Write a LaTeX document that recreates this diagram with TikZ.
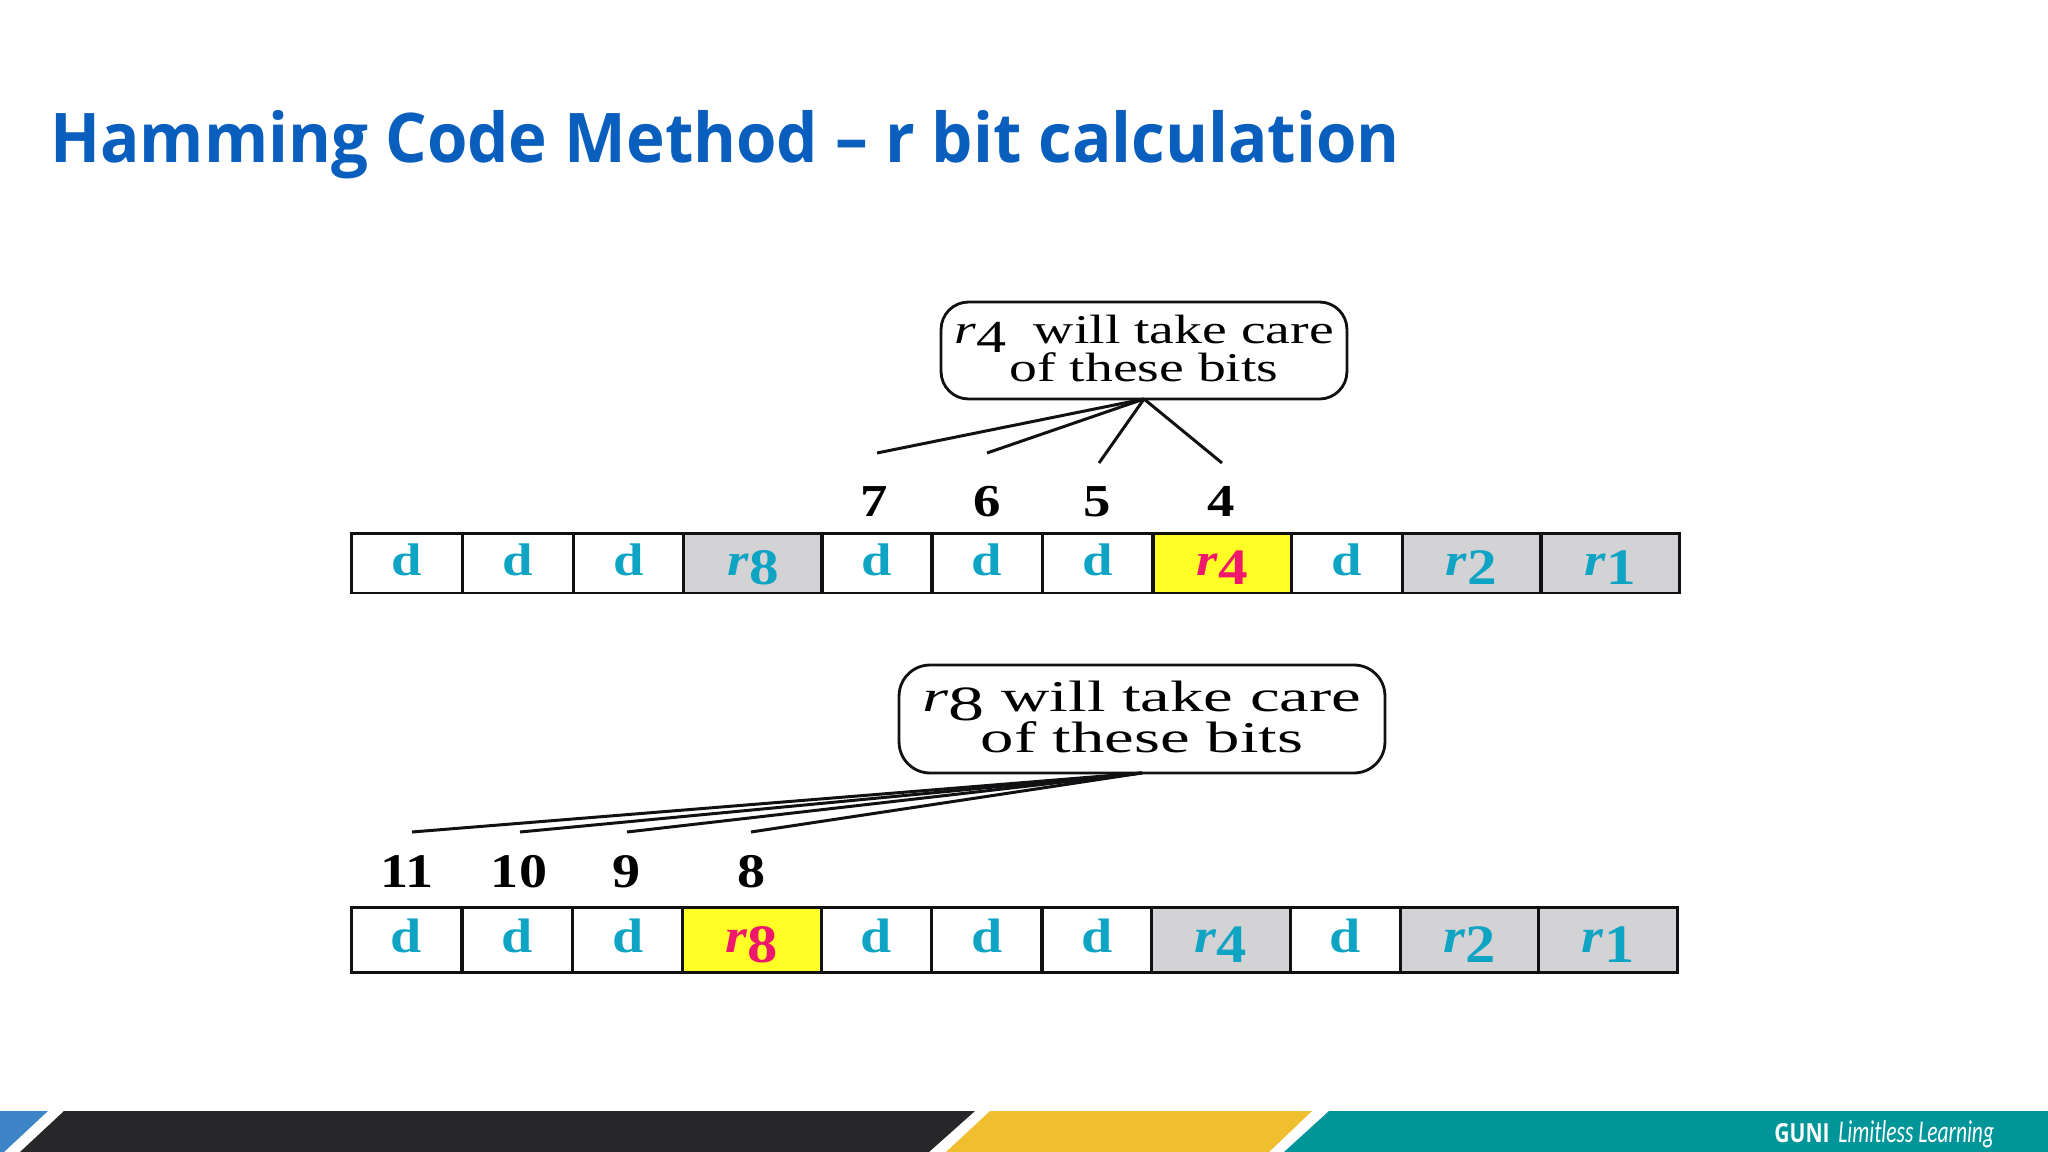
\documentclass[tikz,border=0pt]{standalone}
\usepackage{fontspec}
\usepackage{xcolor}
\setmainfont{Liberation Serif}
\newfontfamily\titlefont[FakeStretch=0.955]{Open Sans}
\newfontfamily\gunifont[FakeStretch=0.8]{Open Sans}
\newfontfamily\mottofont[FakeStretch=0.68]{Carlito}
\newfontfamily\bitfonta[FakeStretch=1.2]{Liberation Serif}
\newfontfamily\bitfontb[FakeStretch=1.16]{Liberation Serif}
\newfontfamily\notefonta[FakeStretch=1.36]{Liberation Serif}
\newfontfamily\notefontb[FakeStretch=1.52]{Liberation Serif}
\definecolor{titleblue}{HTML}{0A5FBE}
\definecolor{bitblue}{HTML}{0FA3C4}
\definecolor{bitpink}{HTML}{F0186C}
\definecolor{bityellow}{HTML}{FFFF26}
\definecolor{bitgray}{HTML}{D3D3D5}
\definecolor{inkdark}{HTML}{111113}
\definecolor{barblue}{HTML}{3D85C6}
\definecolor{bardark}{HTML}{272729}
\definecolor{baryellow}{HTML}{F0BF2F}
\definecolor{barteal}{HTML}{009599}
\newcommand{\rlab}[1]{\textit{r}\raisebox{-0.21em}{\scalebox{1.08}[1.12]{#1}}}
\tikzset{
  cell/.style={draw=inkdark, line width=1.7pt, inner sep=0pt, outer sep=0pt, text=bitblue, text height=0.6cm, text depth=0.12cm},
  rowa/.style={cell, minimum height=1.2cm, font=\bitfonta\bfseries\fontsize{26}{26}\selectfont},
  rowb/.style={cell, minimum height=1.3cm, font=\bitfontb\bfseries\fontsize{27.5}{27.5}\selectfont},
  dbit/.style={minimum width=2.21cm},
  rbit/.style={minimum width=2.77cm, fill=bitgray},
  hit/.style={minimum width=2.77cm, fill=bityellow, text=bitpink},
  numa/.style={anchor=base, inner sep=0pt, text=black, font=\bitfonta\bfseries\fontsize{26}{26}\selectfont},
  numb/.style={anchor=base, inner sep=0pt, text=black, font=\bitfontb\bfseries\fontsize{27.5}{27.5}\selectfont},
  note/.style={draw=inkdark, line width=1.6pt, inner sep=0pt, outer sep=0pt, align=center, fill=white},
  lead/.style={draw=inkdark, line width=1.7pt},
}
\begin{document}
\begin{tikzpicture}[x=0.02cm, y=-0.02cm]
  \useasboundingbox (0,0) rectangle (2048,1152);

  % title
  \node[anchor=base west, inner sep=0pt, text=titleblue, font=\titlefont\bfseries\fontsize{39}{39}\selectfont] (title) at (50,163) {Hamming Code Method – r bit calculation};

  % upper row
  \node[rowa,dbit] (a11) at (407,563) {d};
  \node[rowa,dbit] (a10) at (518,563) {d};
  \node[rowa,dbit] (a9) at (628.5,563) {d};
  \node[rowa,rbit] (a8) at (753,563) {\rlab{8}};
  \node[rowa,dbit] (a7) at (877,563) {d};
  \node[rowa,dbit] (a6) at (987,563) {d};
  \node[rowa,dbit] (a5) at (1097.5,563) {d};
  \node[rowa,hit] (a4) at (1222.5,563) {\rlab{4}};
  \node[rowa,dbit] (a3) at (1347,563) {d};
  \node[rowa,rbit] (a2) at (1471.5,563) {\rlab{2}};
  \node[rowa,rbit] (a1) at (1610.5,563) {\rlab{1}};

  \node[numa] (na7) at (874,516) {7};
  \node[numa] (na6) at (987,516) {6};
  \node[numa] (na5) at (1097,516) {5};
  \node[numa] (na4) at (1221,516) {4};

  \node[note, minimum width=8.12cm, minimum height=1.94cm, rounded corners=0.55cm, font=\notefonta\fontsize{23.3}{20}\selectfont] (notea) at (1144,350.5) {\rlab{4}~~will take care\\[-0.7pt]of these bits\rule[-2.2pt]{0pt}{0pt}};

  \coordinate (ea7) at (877,453);
  \coordinate (ea6) at (987,453);
  \coordinate (ea5) at (1099,463);
  \coordinate (ea4) at (1222,463);
  \draw[lead] (notea.south) -- (ea7);
  \draw[lead] (notea.south) -- (ea6);
  \draw[lead] (notea.south) -- (ea5);
  \draw[lead] (notea.south) -- (ea4);

  % lower row
  \node[rowb,dbit] (b11) at (406.5,940) {d};
  \node[rowb,dbit] (b10) at (517.5,940) {d};
  \node[rowb,dbit] (b9) at (628,940) {d};
  \node[rowb,hit] (b8) at (752,940) {\rlab{8}};
  \node[rowb,dbit] (b7) at (876.5,940) {d};
  \node[rowb,dbit] (b6) at (987,940) {d};
  \node[rowb,dbit] (b5) at (1097,940) {d};
  \node[rowb,rbit] (b4) at (1221,940) {\rlab{4}};
  \node[rowb,dbit] (b3) at (1345.5,940) {d};
  \node[rowb,rbit] (b2) at (1470,940) {\rlab{2}};
  \node[rowb,rbit] (b1) at (1608,940) {\rlab{1}};

  \node[numb] (nb11) at (407,887) {11};
  \node[numb] (nb10) at (519,887) {10};
  \node[numb] (nb9) at (627,887) {9};
  \node[numb] (nb8) at (752,887) {8};

  \node[note, minimum width=9.72cm, minimum height=2.16cm, rounded corners=0.62cm, font=\notefontb\fontsize{25}{23}\selectfont] (noteb) at (1142,719) {\rlab{8} will take care\\[-0.7pt]of these bits\rule[-2.2pt]{0pt}{0pt}};

  \coordinate (eb11) at (412,832);
  \coordinate (eb10) at (520,832);
  \coordinate (eb9) at (627,832);
  \coordinate (eb8) at (751,832);
  \draw[lead] (noteb.south) -- (eb11);
  \draw[lead] (noteb.south) -- (eb10);
  \draw[lead] (noteb.south) -- (eb9);
  \draw[lead] (noteb.south) -- (eb8);

  % footer band
  \fill[barblue] (0,1111) -- (48,1111) -- (4,1152) -- (0,1152) -- cycle;
  \fill[bardark] (64,1111) -- (975,1111) -- (929,1152) -- (20,1152) -- cycle;
  \fill[baryellow] (990,1111) -- (1312,1111) -- (1269,1152) -- (946,1152) -- cycle;
  \fill[barteal] (1329,1111) -- (2048,1111) -- (2048,1152) -- (1284,1152) -- cycle;
  \node[anchor=base west, inner sep=0pt, text=white, font=\gunifont\bfseries\fontsize{15}{15}\selectfont] (guni) at (1774,1142) {GUNI};
  \node[anchor=base west, inner sep=0pt, text=white, font=\mottofont\itshape\fontsize{18}{18}\selectfont] (motto) at (1838,1142) {Limitless Learning};
\end{tikzpicture}
\end{document}
